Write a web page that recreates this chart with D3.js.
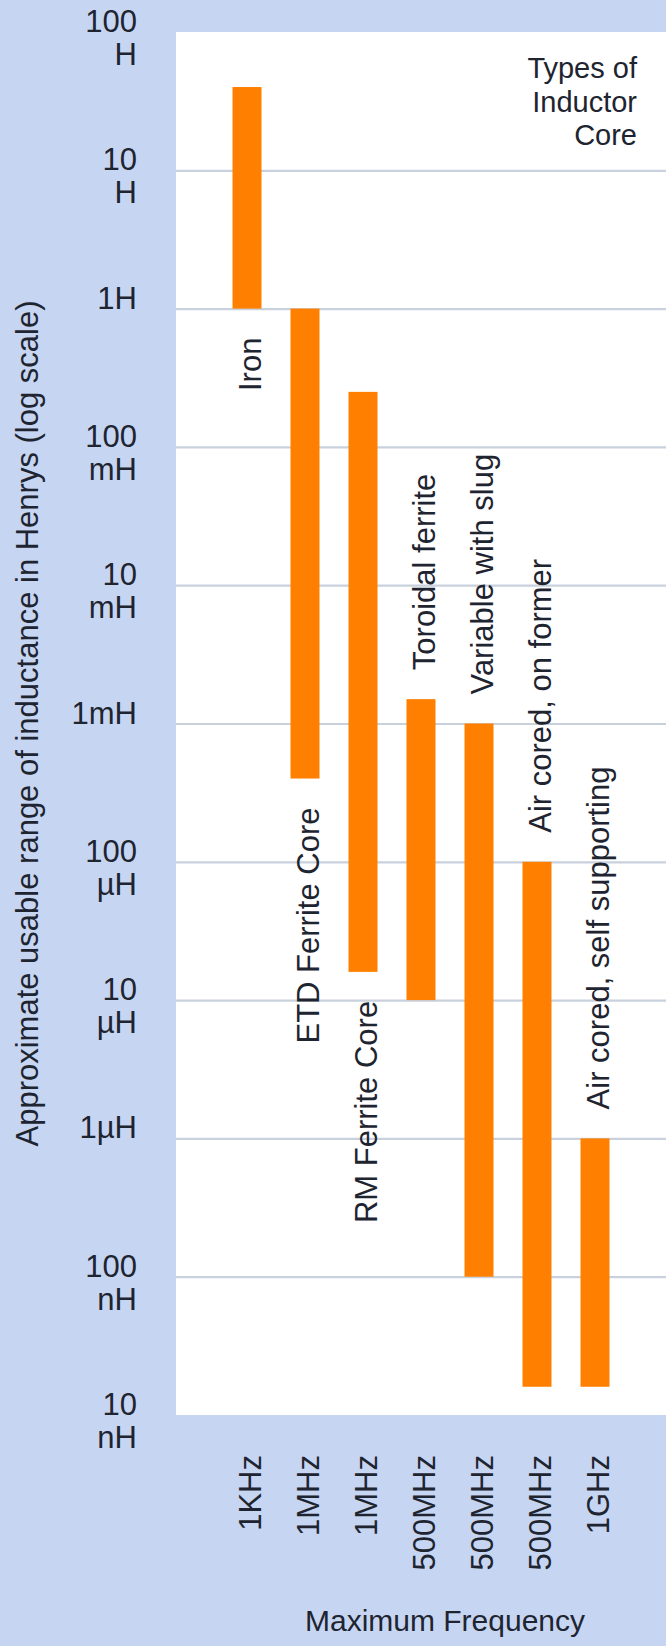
<!DOCTYPE html>
<html>
<head>
<meta charset="utf-8">
<script src="https://cdn.jsdelivr.net/npm/d3@7"></script>
<style>
  html, body { margin: 0; padding: 0; background: #c6d6f2; }
  svg { display: block; }
  text { font-family: "Liberation Sans", Arial, sans-serif; fill: #1e2430; }
</style>
</head>
<body>
<svg id="chart" width="666" height="1646"></svg>
<script>
// ---- data ----
const cores = ["Iron", "ETD Ferrite Core", "RM Ferrite Core", "Toroidal ferrite",
               "Variable with slug", "Air cored, on former", "Air cored, self supporting"];
const maxFrequency = ["1KHz", "1MHz", "1MHz", "500MHz", "500MHz", "500MHz", "1GHz"];
const rangeHigh = [40, 1, 0.25, 1.5e-3, 1e-3, 1e-4, 1e-6];          // Henrys
const rangeLow  = [1, 4e-4, 1.6e-5, 1e-5, 1e-7, 1.6e-8, 1.6e-8];    // Henrys
const tickValues = [1e2, 1e1, 1e0, 1e-1, 1e-2, 1e-3, 1e-4, 1e-5, 1e-6, 1e-7, 1e-8];
const tickLine1 = ["100", "10", "1H", "100", "10", "1mH", "100", "10", "1µH", "100", "10"];
const tickLine2 = ["H", "H", "", "mH", "mH", "", "µH", "µH", "", "nH", "nH"];
const labelsBelow = ["Iron", "ETD Ferrite Core", "RM Ferrite Core"];
const titleLines = ["Types of", "Inductor", "Core"];

// ---- layout ----
const W = 666, H = 1646;
const plot = { left: 176, top: 32, right: 666, bottom: 1415 };
const svg = d3.select("#chart");

svg.append("rect").attr("x", 0).attr("y", 0).attr("width", W).attr("height", H).attr("fill", "#c6d6f2");
svg.append("rect").attr("x", plot.left).attr("y", plot.top)
  .attr("width", plot.right - plot.left).attr("height", plot.bottom - plot.top).attr("fill", "#ffffff");

const y = d3.scaleLog().domain([1e-8, 1e2]).range([plot.bottom, plot.top]);
const x = d3.scalePoint().domain(d3.range(cores.length)).range([247, 595]);
const barW = 29;

// gridlines via axis
const grid = svg.append("g").attr("transform", `translate(${plot.left},0)`)
  .call(d3.axisRight(y).tickValues(tickValues.slice(1, -1)).tickSize(plot.right - plot.left).tickFormat(""));
grid.select(".domain").remove();
grid.selectAll("line").attr("stroke", "#c9d1dd").attr("stroke-width", 2.2);

// y tick labels (two lines)
const tl = svg.append("g").selectAll("text").data(tickValues).join("text")
  .attr("text-anchor", "end").attr("font-size", 31)
  .attr("y", d => y(d));
tl.append("tspan").attr("x", 137).text((d, i) => tickLine1[i]);
tl.append("tspan").attr("x", 137).attr("dy", 33).text((d, i) => tickLine2[i]);

// bars
svg.append("g").selectAll("rect").data(cores).join("rect")
  .attr("x", (d, i) => x(i) - barW / 2)
  .attr("width", barW)
  .attr("y", (d, i) => y(rangeHigh[i]))
  .attr("height", (d, i) => y(rangeLow[i]) - y(rangeHigh[i]))
  .attr("fill", "#ff8000");

// bar labels
svg.append("g").selectAll("text").data(cores).join("text")
  .attr("font-size", 31)
  .attr("text-anchor", d => labelsBelow.includes(d) ? "end" : "start")
  .attr("transform", (d, i) => {
    const yy = labelsBelow.includes(d) ? y(rangeLow[i]) + 29 : y(rangeHigh[i]) - 29;
    return `translate(${x(i) + 14},${yy}) rotate(-90)`;
  })
  .text(d => d);

// x labels (max frequency)
svg.append("g").selectAll("text").data(maxFrequency).join("text")
  .attr("font-size", 31)
  .attr("text-anchor", "end")
  .attr("transform", (d, i) => `translate(${x(i) + 14},1455) rotate(-90)`)
  .text(d => d);

// axis titles
svg.append("text").attr("font-size", 30).attr("text-anchor", "middle")
  .attr("x", 445).attr("y", 1631).text("Maximum Frequency");

svg.append("text").attr("font-size", 31).attr("text-anchor", "middle")
  .attr("transform", `translate(38,${(plot.top + plot.bottom) / 2}) rotate(-90)`)
  .text("Approximate usable range of inductance in Henrys (log scale)");

// chart title
svg.append("g").selectAll("text").data(titleLines).join("text")
  .attr("font-size", 29).attr("text-anchor", "end")
  .attr("x", 637).attr("y", (d, i) => 78 + i * 33.5)
  .text(d => d);
</script>
</body>
</html>
